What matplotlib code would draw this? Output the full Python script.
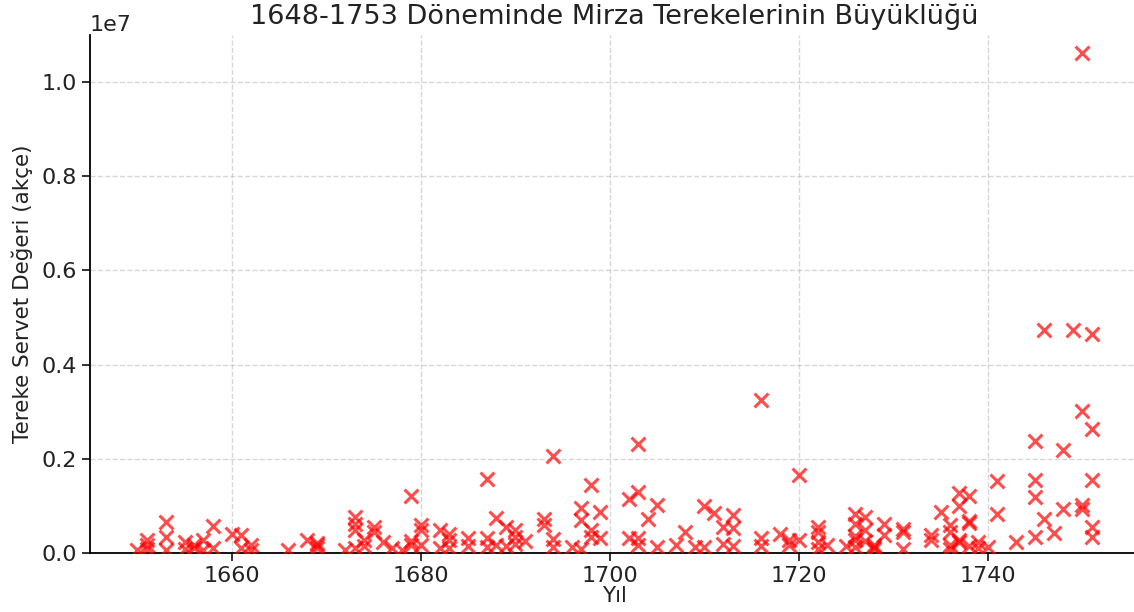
import numpy as np
import matplotlib
matplotlib.use('Agg')
import matplotlib.pyplot as plt

# Mirza estates: (year, estate value in akce)
YEARS = [
    1650, 1651, 1651, 1651,
    1653, 1653, 1653,
    1655, 1655, 1656, 1656, 1657, 1657, 1658, 1658,
    1660, 1661, 1661, 1662, 1662,
    1666, 1668, 1669, 1669, 1669,
    1672, 1673, 1673, 1673, 1673, 1674, 1674,
    1675, 1675, 1676, 1677, 1678,
    1679, 1679, 1679, 1680, 1680, 1680,
    1682, 1682, 1683, 1683, 1683,
    1685, 1685, 1687, 1687, 1687, 1688, 1688,
    1689, 1689, 1690, 1690, 1690, 1691,
    1693, 1693, 1694, 1694, 1694, 1696,
    1697, 1697, 1697, 1698, 1698, 1698, 1699, 1699,
    1702, 1702, 1703, 1703, 1703, 1703, 1704, 1705, 1705,
    1707, 1708, 1709, 1710, 1710, 1711, 1712, 1712,
    1713, 1713, 1713, 1716, 1716, 1716, 1718, 1719, 1719, 1720, 1720,
    1722, 1722, 1722, 1722, 1723, 1725,
    1726, 1726, 1726, 1726, 1726, 1727, 1727, 1727,
    1728, 1728, 1728, 1729, 1729, 1731, 1731, 1731,
    1734, 1734, 1735, 1736, 1736, 1736, 1736,
    1737, 1737, 1737, 1737, 1738, 1738, 1738, 1738,
    1739, 1739, 1740, 1741, 1741, 1743,
    1745, 1745, 1745, 1745, 1746, 1746, 1747, 1748, 1748, 1749,
    1750, 1750, 1750, 1750,
    1751, 1751, 1751, 1751, 1751,
]

VALUES = [
    70000, 280000, 160000, 90000,
    660000, 330000, 70000,
    230000, 90000, 180000, 100000, 270000, 60000, 570000, 110000,
    400000, 390000, 110000, 160000, 70000,
    60000, 270000, 210000, 110000, 180000,
    70000, 760000, 620000, 480000, 110000, 270000, 140000,
    550000, 450000, 230000, 110000, 70000,
    1200000, 250000, 160000, 590000, 480000, 160000,
    480000, 110000, 410000, 270000, 110000,
    310000, 150000, 1580000, 310000, 130000, 740000, 160000,
    550000, 150000, 480000, 340000, 200000, 250000,
    730000, 590000, 2050000, 290000, 130000, 130000,
    950000, 700000, 90000, 1440000, 480000, 340000, 880000, 310000,
    1150000, 320000, 2320000, 1300000, 310000, 160000, 720000, 1010000, 130000,
    160000, 450000, 130000, 990000, 130000, 850000, 550000, 200000,
    800000, 540000, 150000, 3240000, 320000, 150000, 410000, 270000, 160000, 1650000, 270000,
    550000, 450000, 230000, 90000, 160000, 150000,
    820000, 620000, 360000, 270000, 130000, 760000, 480000, 250000,
    130000, 90000, 170000, 620000, 390000, 520000, 450000, 80000,
    390000, 270000, 870000, 600000, 450000, 160000, 90000,
    1280000, 990000, 270000, 230000, 1210000, 690000, 630000, 140000,
    230000, 100000, 130000, 1520000, 830000, 230000,
    2370000, 1540000, 1180000, 350000, 4740000, 730000, 430000, 2180000, 940000, 4740000,
    10610000, 3020000, 1010000, 940000,
    4640000, 2640000, 1560000, 550000, 340000,
]

TITLE = '1648-1753 Döneminde Mirza Terekelerinin Büyüklüğü'
XLABEL = 'Yıl'
YLABEL = 'Tereke Servet Değeri (akçe)'


def main():
    fig = plt.figure(figsize=(11.34, 6.12), dpi=100)
    ax = fig.add_axes([90 / 1134, 59 / 612, 1049 / 1134, 518 / 612])

    ax.scatter(YEARS, VALUES, marker='x', color='red', alpha=0.7,
               s=100, linewidths=2.2, zorder=3)

    ax.set_xlim(1645, 1756)
    ax.set_ylim(0, 1.1e7)
    ax.set_xticks([1660, 1680, 1700, 1720, 1740])
    ax.set_yticks([0, 0.2e7, 0.4e7, 0.6e7, 0.8e7, 1.0e7])

    ax.grid(True, linestyle='--', color='#b0b0b0', alpha=0.5, linewidth=1.0)
    ax.set_axisbelow(True)
    for side in ['top', 'right']:
        ax.spines[side].set_visible(False)
    for side in ['left', 'bottom']:
        ax.spines[side].set_linewidth(1.3)

    ax.tick_params(labelsize=16, length=6, width=1.3, colors='#222222')
    ax.yaxis.get_offset_text().set_fontsize(16)

    ax.set_title(TITLE, fontsize=19.5, pad=8, color='#222222')
    ax.set_xlabel(XLABEL, fontsize=15.5, labelpad=0, color='#222222')
    ax.set_ylabel(YLABEL, fontsize=15.5, labelpad=6, color='#222222')

    fig.savefig('out.png', dpi=100)
    plt.close(fig)


if __name__ == '__main__':
    main()
